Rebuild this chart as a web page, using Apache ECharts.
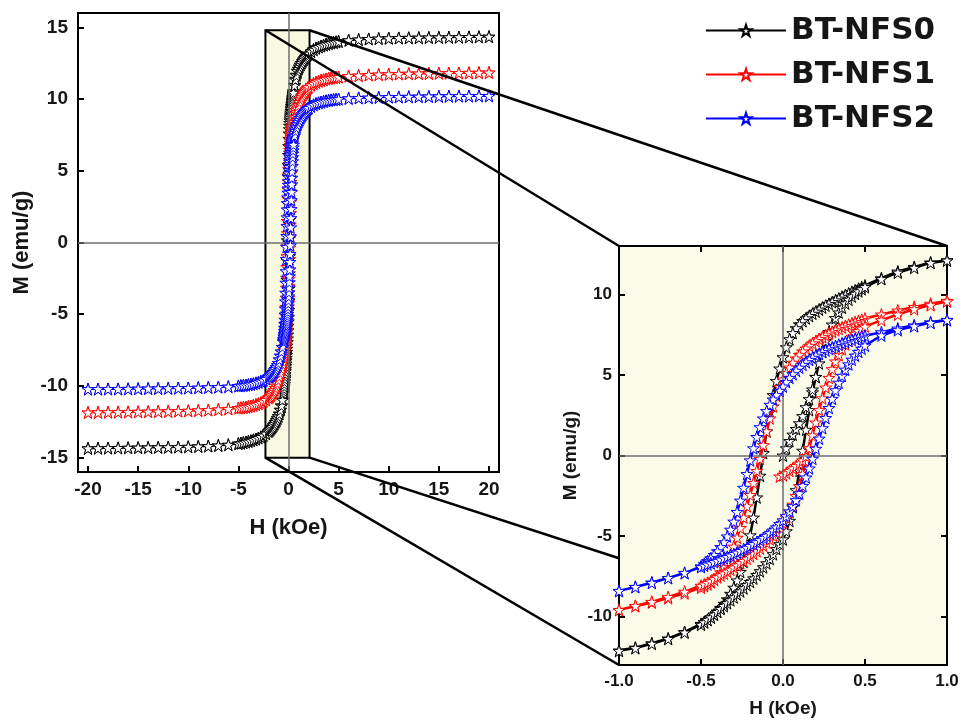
<!DOCTYPE html>
<html><head><meta charset="utf-8">
<script src="https://cdn.jsdelivr.net/npm/echarts@6/dist/echarts.min.js"></script>
<style>html,body{margin:0;padding:0;background:#fff}#c{width:968px;height:723px}</style>
</head><body><div id="c"></div>
<script>
// ---------------- DATA ----------------
const SERIES_NAMES = ['BT-NFS0', 'BT-NFS1', 'BT-NFS2'];
const SERIES_COLORS = ['#000000', '#ff0000', '#0000ff'];

// Field grid of the descending branch (kOe), +20 -> -20
const H_DESC = [20,19,18,17,16,15,14,13,12,11,10,9,8,7,6,5,
4.75,4.5,4.25,4,3.75,3.5,3.25,3,2.75,2.5,2.25,2,
1.9,1.8,1.7,1.6,1.5,1.4,1.3,1.2,1.1,1,
0.9,0.8,0.7,0.6,0.5,
0.48,0.46,0.44,0.42,0.4,0.38,0.36,0.34,0.32,0.3,0.28,0.26,0.24,0.22,0.2,0.18,0.16,0.14,0.12,0.1,0.08,0.06,0.04,0.02,0,-0.02,-0.04,-0.06,-0.08,-0.1,-0.12,-0.14,-0.16,-0.18,-0.2,-0.22,-0.24,-0.26,-0.28,-0.3,-0.32,-0.34,-0.36,-0.38,-0.4,-0.42,-0.44,-0.46,-0.48,
-0.5,-0.6,-0.7,-0.8,-0.9,
-1,-1.1,-1.2,-1.3,-1.4,-1.5,-1.6,-1.7,-1.8,-1.9,
-2,-2.25,-2.5,-2.75,-3,-3.25,-3.5,-3.75,-4,-4.25,-4.5,-4.75,
-5,-6,-7,-8,-9,-10,-11,-12,-13,-14,-15,-16,-17,-18,-19,-20];

// BT-NFS0 (emu/g)
const NFS0_DESC = [14.35,14.34,14.33,14.32,14.31,14.3,14.29,14.28,14.27,14.26,14.24,14.22,14.19,14.15,14.1,14.02,
13.99,13.95,13.91,13.87,13.82,13.76,13.7,13.63,13.55,13.45,13.32,13.17,
13.1,13.02,12.94,12.85,12.75,12.64,12.52,12.4,12.26,12.12,
11.98,11.7,11.42,11.0,10.55,
10.45,10.35,10.25,10.15,10.05,9.95,9.85,9.74,9.63,9.52,9.41,9.3,9.18,9.06,8.93,8.8,8.66,8.51,8.34,8.14,7.9,7.6,7.22,6.72,6.1,5.4,4.62,3.75,2.72,1.5,0.15,-1.25,-2.6,-3.85,-4.95,-5.85,-6.6,-7.22,-7.75,-8.2,-8.58,-8.92,-9.2,-9.45,-9.68,-9.88,-10.05,-10.2,-10.33,
-10.45,-10.95,-11.35,-11.65,-11.92,
-12.1,-12.26,-12.4,-12.52,-12.64,-12.75,-12.85,-12.94,-13.02,-13.1,
-13.17,-13.32,-13.45,-13.55,-13.63,-13.7,-13.76,-13.82,-13.87,-13.91,-13.95,-13.99,
-14.02,-14.1,-14.15,-14.19,-14.22,-14.24,-14.26,-14.27,-14.28,-14.29,-14.3,-14.31,-14.32,-14.33,-14.34,-14.35];
const NFS0_ASC = [-14.35,-14.34,-14.33,-14.32,-14.31,-14.3,-14.29,-14.28,-14.27,-14.26,-14.24,-14.22,-14.19,-14.15,-14.1,-14.02,
-13.99,-13.95,-13.91,-13.87,-13.82,-13.76,-13.7,-13.63,-13.55,-13.45,-13.32,-13.17,
-13.1,-13.02,-12.94,-12.85,-12.75,-12.64,-12.52,-12.4,-12.26,-12.12,
-11.95,-11.68,-11.38,-10.98,-10.5,
-10.35,-10.2,-10.04,-9.87,-9.7,-9.52,-9.34,-9.16,-8.98,-8.8,-8.62,-8.43,-8.24,-8.04,-7.84,-7.63,-7.41,-7.18,-6.94,-6.69,-6.42,-6.12,-5.8,-5.5,-5.2,-4.7,-4.05,-3.2,-2.15,-0.95,0.3,1.6,2.82,3.92,4.88,5.72,6.46,7.1,7.66,8.13,8.53,8.88,9.18,9.44,9.67,9.87,10.04,10.19,10.32,
10.45,10.95,11.35,11.65,11.95,
12.1,12.26,12.4,12.52,12.64,12.75,12.85,12.94,13.02,13.1,
13.17,13.32,13.45,13.55,13.63,13.7,13.76,13.82,13.87,13.91,13.95,13.99,
14.02,14.1,14.15,14.19,14.22,14.24,14.26,14.27,14.28,14.29,14.3,14.31,14.32,14.33,14.34,14.35];

// BT-NFS1
const NFS1_DESC = [11.85,11.84,11.83,11.82,11.81,11.8,11.79,11.78,11.77,11.75,11.73,11.71,11.68,11.64,11.6,11.54,
11.52,11.5,11.47,11.44,11.4,11.35,11.3,11.24,11.17,11.08,10.97,10.83,
10.76,10.68,10.6,10.5,10.4,10.28,10.14,9.98,9.8,9.6,
9.42,9.22,9.0,8.75,8.5,
8.42,8.35,8.28,8.2,8.12,8.04,7.95,7.86,7.77,7.67,7.57,7.46,7.35,7.23,7.1,6.96,6.81,6.64,6.46,6.25,6.02,5.76,5.46,5.12,4.72,4.25,3.7,3.05,2.3,1.5,0.65,-0.2,-0.95,-1.7,-2.45,-3.15,-3.85,-4.5,-5.1,-5.65,-6.15,-6.58,-6.95,-7.25,-7.5,-7.7,-7.87,-8.0,-8.1,
-8.2,-8.55,-8.85,-9.12,-9.35,
-9.58,-9.8,-9.98,-10.14,-10.28,-10.4,-10.5,-10.6,-10.68,-10.76,
-10.83,-10.97,-11.08,-11.17,-11.24,-11.3,-11.35,-11.4,-11.44,-11.47,-11.5,-11.52,
-11.54,-11.6,-11.64,-11.68,-11.71,-11.73,-11.75,-11.77,-11.78,-11.79,-11.8,-11.81,-11.82,-11.83,-11.84,-11.85];
const NFS1_ASC = [-11.85,-11.84,-11.83,-11.82,-11.81,-11.8,-11.79,-11.78,-11.77,-11.75,-11.73,-11.71,-11.68,-11.64,-11.6,-11.54,
-11.52,-11.5,-11.47,-11.44,-11.4,-11.35,-11.3,-11.24,-11.17,-11.08,-10.97,-10.83,
-10.76,-10.68,-10.6,-10.5,-10.4,-10.28,-10.14,-9.98,-9.8,-9.58,
-9.33,-9.08,-8.78,-8.45,-8.08,
-8.0,-7.9,-7.8,-7.68,-7.56,-7.44,-7.32,-7.2,-7.08,-6.95,-6.82,-6.68,-6.54,-6.4,-6.25,-6.1,-5.94,-5.77,-5.59,-5.4,-5.2,-4.98,-4.74,-4.47,-4.17,-3.85,-3.48,-3.05,-2.52,-1.9,-1.15,-0.35,0.45,1.25,2.05,2.82,3.55,4.22,4.82,5.36,5.84,6.25,6.6,6.9,7.15,7.37,7.56,7.73,7.88,
8.0,8.4,8.75,9.08,9.33,
9.56,9.8,9.98,10.14,10.28,10.4,10.5,10.6,10.68,10.76,
10.83,10.97,11.08,11.17,11.24,11.3,11.35,11.4,11.44,11.47,11.5,11.52,
11.54,11.6,11.64,11.68,11.71,11.73,11.75,11.77,11.78,11.79,11.8,11.81,11.82,11.83,11.84,11.85];

// BT-NFS2
const NFS2_DESC = [10.22,10.22,10.21,10.21,10.2,10.19,10.18,10.17,10.16,10.15,10.14,10.12,10.1,10.08,10.05,10.0,
9.98,9.96,9.94,9.91,9.88,9.84,9.79,9.74,9.68,9.6,9.5,9.38,
9.32,9.26,9.19,9.11,9.02,8.92,8.81,8.69,8.55,8.42,
8.27,8.08,7.88,7.65,7.43,
7.38,7.32,7.25,7.18,7.11,7.04,6.96,6.88,6.8,6.71,6.62,6.52,6.42,6.31,6.2,6.07,5.94,5.79,5.63,5.45,5.26,5.05,4.82,4.56,4.28,4.02,3.76,3.48,3.15,2.76,2.3,1.76,1.15,0.45,-0.3,-1.15,-2.0,-2.8,-3.5,-4.1,-4.6,-5.02,-5.38,-5.68,-5.94,-6.17,-6.37,-6.55,-6.72,
-6.88,-7.3,-7.6,-7.88,-8.15,
-8.4,-8.55,-8.69,-8.81,-8.92,-9.02,-9.11,-9.19,-9.26,-9.32,
-9.38,-9.5,-9.6,-9.68,-9.74,-9.79,-9.84,-9.88,-9.91,-9.94,-9.96,-9.98,
-10.0,-10.05,-10.08,-10.1,-10.12,-10.14,-10.15,-10.16,-10.17,-10.18,-10.19,-10.2,-10.21,-10.21,-10.22,-10.22];
const NFS2_ASC = [-10.22,-10.22,-10.21,-10.21,-10.2,-10.19,-10.18,-10.17,-10.16,-10.15,-10.14,-10.12,-10.1,-10.08,-10.05,-10.0,
-9.98,-9.96,-9.94,-9.91,-9.88,-9.84,-9.79,-9.74,-9.68,-9.6,-9.5,-9.38,
-9.32,-9.26,-9.19,-9.11,-9.02,-8.92,-8.81,-8.69,-8.55,-8.4,
-8.16,-7.9,-7.6,-7.28,-6.92,
-6.83,-6.76,-6.69,-6.61,-6.53,-6.45,-6.37,-6.29,-6.2,-6.11,-6.02,-5.92,-5.82,-5.72,-5.61,-5.5,-5.38,-5.25,-5.12,-4.98,-4.82,-4.65,-4.46,-4.25,-4.02,-3.76,-3.47,-3.14,-2.77,-2.35,-1.88,-1.36,-0.8,-0.2,0.42,1.05,1.7,2.33,2.95,3.52,4.05,4.52,4.95,5.33,5.66,5.95,6.2,6.43,6.63,
6.82,7.45,7.78,8.02,8.23,
8.4,8.55,8.69,8.81,8.92,9.02,9.11,9.19,9.26,9.32,
9.38,9.5,9.6,9.68,9.74,9.79,9.84,9.88,9.91,9.94,9.96,9.98,
10.0,10.05,10.08,10.1,10.12,10.14,10.15,10.16,10.17,10.18,10.19,10.2,10.21,10.21,10.22,10.22];

// Initial magnetisation segments visible in the inset
const INIT_H_NFS0 = [0,0.02,0.04,0.06,0.08,0.1,0.12,0.14,0.16,0.18,0.2];
const INIT_NFS0 = [0,0.45,0.9,1.3,1.65,2.0,2.45,3.0,3.5,4.1,4.88];
const INIT_H_NFS1 = [-0.02,0,0.02,0.04,0.06,0.08,0.1,0.12,0.14,0.16];
const INIT_NFS1 = [-1.3,-1.22,-1.1,-0.95,-0.8,-0.65,-0.5,-0.3,-0.05,0.45];

// Axes
const MAIN_X_RANGE = [-21, 21];
const MAIN_Y_RANGE = [-16, 16];
const MAIN_X_TICKS = [-20,-15,-10,-5,0,5,10,15,20];
const MAIN_Y_TICKS = [-15,-10,-5,0,5,10,15];
const INSET_X_RANGE = [-1, 1];
const INSET_Y_RANGE = [-13, 13];
const INSET_X_TICKS = [-1,-0.5,0,0.5,1];
const INSET_Y_TICKS = [-10,-5,0,5,10];
// Highlighted (zoomed) region in the main plot: [H min, H max], [M min, M max]
const ZOOM_H = [-2.3, 2.1];
const ZOOM_M = [-15, 14.8];

// ---------------- BUILD ----------------
const H_ASC = H_DESC.slice().reverse();
[NFS0_DESC,NFS0_ASC,NFS1_DESC,NFS1_ASC,NFS2_DESC,NFS2_ASC].forEach((a,i)=>{
  if (a.length !== H_DESC.length) throw new Error('length mismatch in array '+i+': '+a.length+' vs '+H_DESC.length);
});
const loops = [[NFS0_DESC,NFS0_ASC],[NFS1_DESC,NFS1_ASC],[NFS2_DESC,NFS2_ASC]];
const loopData = loops.map(([d,a]) => d.map((m,i)=>[H_DESC[i],m]).concat(a.map((m,i)=>[H_ASC[i],m])));
const initData = [
  INIT_NFS0.map((m,i)=>[INIT_H_NFS0[i],m]),
  INIT_NFS1.map((m,i)=>[INIT_H_NFS1[i],m])
];

const STAR = 'path://M50 0L61.2 34.5H97.6L68.2 55.9L79.4 90.5L50 69.1L20.6 90.5L31.8 55.9L2.4 34.5H38.8Z';
const FONT = 'Liberation Sans, Arial, sans-serif';
const TXT = '#161616';

function axisCommon(extra) {
  return Object.assign({
    type: 'value',
    axisLine: { onZero: false, lineStyle: { color: '#000', width: 2 } },
    splitLine: { show: false },
    nameLocation: 'middle',
    nameTextStyle: { fontFamily: FONT, fontWeight: 'bold', color: TXT }
  }, extra);
}

const chart = echarts.init(document.getElementById('c'), null, { renderer: 'canvas' });

const series = [];
// highlighted box in main plot
series.push({
  type: 'line', xAxisIndex: 0, yAxisIndex: 0, data: [], z: 1, silent: true,
  markArea: { silent: true, itemStyle: { color: '#f9f9e1', borderColor: '#000', borderWidth: 2 },
    data: [[{ coord: [ZOOM_H[0], ZOOM_M[0]] }, { coord: [ZOOM_H[1], ZOOM_M[1]] }]] }
});
// curves
loopData.forEach((d, s) => {
  const base = {
    type: 'line', name: SERIES_NAMES[s], data: d, symbol: STAR, showSymbol: true, showAllSymbol: true,
    animation: false, emphasis: { disabled: true }, clip: true,
    lineStyle: { color: SERIES_COLORS[s] },
    itemStyle: { color: '#ffffff', borderColor: SERIES_COLORS[s], borderWidth: 1 }
  };
  series.push(Object.assign({}, base, { xAxisIndex: 0, yAxisIndex: 0, z: 3 + s, symbolSize: 12,
    lineStyle: { color: SERIES_COLORS[s], width: 2 } }));
  series.push(Object.assign({}, base, { xAxisIndex: 1, yAxisIndex: 1, z: 3 + s, symbolSize: 12,
    lineStyle: { color: SERIES_COLORS[s], width: 2.5 } }));
});
initData.forEach((d, s) => {
  series.push({
    type: 'line', name: SERIES_NAMES[s], data: d, symbol: STAR, symbolSize: 12, xAxisIndex: 1, yAxisIndex: 1,
    z: 3 + s, animation: false, emphasis: { disabled: true },
    lineStyle: { color: SERIES_COLORS[s], width: 1.5 },
    itemStyle: { color: '#ffffff', borderColor: SERIES_COLORS[s], borderWidth: 1 }
  });
});
// zero lines
[0, 1].forEach(g => {
  series.push({
    type: 'line', xAxisIndex: g, yAxisIndex: g, data: [], z: 10, silent: true,
    markLine: { silent: true, symbol: 'none', label: { show: false }, animation: false,
      lineStyle: { color: '#6e6e6e', width: 1.5, type: 'solid' },
      data: [{ xAxis: 0 }, { yAxis: 0 }] }
  });
});

chart.setOption({
  animation: false,
  backgroundColor: '#ffffff',
  textStyle: { fontFamily: FONT },
  grid: [
    { left: 78, top: 13, width: 421, height: 459, show: true, borderColor: '#000', borderWidth: 2, backgroundColor: 'transparent' },
    { left: 619, top: 246, width: 328, height: 422, show: true, borderColor: '#000', borderWidth: 2, backgroundColor: '#fbfbea' }
  ],
  legend: {
    data: SERIES_NAMES, orient: 'vertical', left: 700, top: 10,
    itemWidth: 80, itemHeight: 14, itemGap: 13,
    textStyle: { fontSize: 31, fontWeight: 'bold', fontFamily: 'DejaVu Sans', color: TXT },
    selectedMode: false
  },
  xAxis: [
    axisCommon({ gridIndex: 0, position: 'bottom', min: MAIN_X_RANGE[0], max: MAIN_X_RANGE[1],
      axisTick: { inside: true, length: 6, lineStyle: { width: 2, color: '#000' }, customValues: MAIN_X_TICKS },
      axisLabel: { customValues: MAIN_X_TICKS, fontSize: 19, fontWeight: 'bold', fontFamily: FONT, color: TXT, margin: 8 },
      name: 'H (kOe)', nameGap: 45, nameTextStyle: { fontSize: 22, fontWeight: 'bold', fontFamily: FONT, color: TXT } }),
    axisCommon({ gridIndex: 1, position: 'bottom', min: INSET_X_RANGE[0], max: INSET_X_RANGE[1], interval: 0.5,
      axisTick: { inside: true, length: 6, lineStyle: { width: 2, color: '#000' } },
      axisLabel: { fontSize: 17, fontWeight: 'bold', fontFamily: FONT, color: TXT, margin: 8, formatter: v => v.toFixed(1) },
      name: 'H (kOe)', nameGap: 34, nameTextStyle: { fontSize: 19, fontWeight: 'bold', fontFamily: FONT, color: TXT } }),
    axisCommon({ gridIndex: 1, position: 'top', min: INSET_X_RANGE[0], max: INSET_X_RANGE[1], interval: 0.5,
      axisTick: { inside: true, length: 6, lineStyle: { width: 2, color: '#000' } },
      axisLabel: { show: false } })
  ],
  yAxis: [
    axisCommon({ gridIndex: 0, position: 'left', min: MAIN_Y_RANGE[0], max: MAIN_Y_RANGE[1],
      axisTick: { inside: true, length: 6, lineStyle: { width: 2, color: '#000' }, customValues: MAIN_Y_TICKS },
      axisLabel: { customValues: MAIN_Y_TICKS, fontSize: 19, fontWeight: 'bold', fontFamily: FONT, color: TXT, margin: 10 },
      name: 'M (emu/g)', nameGap: 45, nameRotate: 90, nameTextStyle: { fontSize: 22, fontWeight: 'bold', fontFamily: FONT, color: TXT } }),
    axisCommon({ gridIndex: 1, position: 'left', min: INSET_Y_RANGE[0], max: INSET_Y_RANGE[1],
      axisTick: { inside: true, length: 6, lineStyle: { width: 2, color: '#000' }, customValues: INSET_Y_TICKS },
      axisLabel: { customValues: INSET_Y_TICKS, fontSize: 17, fontWeight: 'bold', fontFamily: FONT, color: TXT, margin: 7 },
      name: 'M (emu/g)', nameGap: 39, nameRotate: 90, nameTextStyle: { fontSize: 19, fontWeight: 'bold', fontFamily: FONT, color: TXT } }),
    axisCommon({ gridIndex: 1, position: 'right', min: INSET_Y_RANGE[0], max: INSET_Y_RANGE[1],
      axisTick: { inside: true, length: 6, lineStyle: { width: 2, color: '#000' }, customValues: INSET_Y_TICKS },
      axisLabel: { show: false } })
  ],
  series: series
});

// connector lines from the highlighted box to the inset frame
function px0(pt) { return chart.convertToPixel({ xAxisIndex: 0, yAxisIndex: 0 }, pt); }
function px1(pt) { return chart.convertToPixel({ xAxisIndex: 1, yAxisIndex: 1 }, pt); }
const boxTL = px0([ZOOM_H[0], ZOOM_M[1]]), boxTR = px0([ZOOM_H[1], ZOOM_M[1]]);
const boxBL = px0([ZOOM_H[0], ZOOM_M[0]]), boxBR = px0([ZOOM_H[1], ZOOM_M[0]]);
const inTL = px1([INSET_X_RANGE[0], INSET_Y_RANGE[1]]), inTR = px1([INSET_X_RANGE[1], INSET_Y_RANGE[1]]);
const inBL = px1([INSET_X_RANGE[0], INSET_Y_RANGE[0]]), inBR = px1([INSET_X_RANGE[1], INSET_Y_RANGE[0]]);
// the last connector disappears behind the inset: stop it at the inset's left edge
const t = (inBL[0] - boxBR[0]) / (inBR[0] - boxBR[0]);
const brEnd = [inBL[0], boxBR[1] + t * (inBR[1] - boxBR[1])];
const segs = [[boxTL, inTL], [boxTR, inTR], [boxBL, inBL], [boxBR, brEnd]];
chart.setOption({
  graphic: segs.map(([a, b]) => ({
    type: 'line', silent: true, z: 100,
    shape: { x1: a[0], y1: a[1], x2: b[0], y2: b[1] },
    style: { stroke: '#000', lineWidth: 2.5 }
  }))
});
</script>
</body></html>
